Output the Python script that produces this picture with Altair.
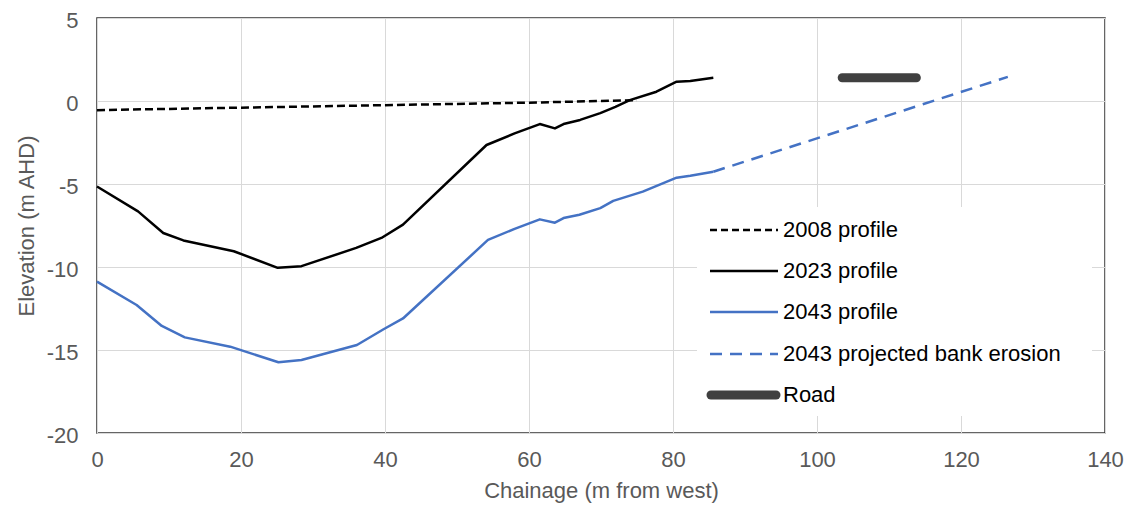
import altair as alt
import pandas as pd

# ---- data ----
x2008 = [0, 20, 40, 60, 75]
y2008 = [-0.55, -0.4, -0.25, -0.1, 0.05]

x2023 = [0, 5.7, 9.2, 12, 19, 25.1, 28.4, 36, 39.5, 42.5, 54.1, 58, 61.5, 63.6,
         64.8, 67.1, 69.9, 72, 74, 77.7, 80.5, 82.4, 85.6]
y2023 = [-5.15, -6.65, -7.95, -8.4, -9.05, -10.05, -9.95, -8.85, -8.25, -7.45,
         -2.65, -1.95, -1.39, -1.65, -1.39, -1.14, -0.73, -0.35, 0.05, 0.56,
         1.16, 1.2, 1.4]

x2043 = [0, 5.5, 9, 12.2, 18.5, 25.2, 28.4, 36.1, 39.8, 42.5, 54.3, 58, 61.5,
         63.6, 64.8, 67, 69.9, 71.7, 75.8, 80.5, 82.4, 85.6]
y2043 = [-10.88, -12.29, -13.55, -14.24, -14.8, -15.74, -15.6, -14.7, -13.75,
         -13.1, -8.37, -7.7, -7.13, -7.33, -7.05, -6.85, -6.45, -6.02, -5.46,
         -4.62, -4.5, -4.26]

x_erosion = [85.6, 126.5]
y_erosion = [-4.26, 1.45]

x_road = [103.5, 113.8]
y_road = [1.4, 1.4]

legend_labels = ["2008 profile", "2023 profile", "2043 profile",
                 "2043 projected bank erosion", "Road"]

x_ticks = [0, 20, 40, 60, 80, 100, 120, 140]
y_ticks = [-20, -15, -10, -5, 0, 5]

FONT = "Liberation Sans"
FS = 22
GREY_TEXT = "#595959"
BLUE = "#4472C4"
ROAD = "#404040"

x_enc = alt.X("x:Q", scale=alt.Scale(domain=[0, 140], nice=False),
              axis=alt.Axis(values=x_ticks, title="Chainage (m from west)",
                            labelPadding=16, titlePadding=10, labelFlush=False,
                            labelExpr="toString(datum.value)"))
y_enc = alt.Y("y:Q", scale=alt.Scale(domain=[-20, 5], nice=False),
              axis=alt.Axis(values=y_ticks, title="Elevation (m AHD)",
                            labelPadding=19, titlePadding=8, labelFlush=False,
                            labelOffset=2,
                            labelExpr="toString(datum.value)"))


def line(xs, ys, color, width, dash=None, cap="butt"):
    df = pd.DataFrame({"x": xs, "y": ys})
    kw = dict(color=color, strokeWidth=width, strokeCap=cap, strokeJoin="round")
    if dash:
        kw["strokeDash"] = dash
    return alt.Chart(df).mark_line(**kw).encode(x=x_enc, y=y_enc, order=alt.Order("x:Q"))


layers = [
    line(x2008, y2008, "#000000", 2.5, [8, 4]),
    line(x2023, y2023, "#000000", 2.5),
    line(x2043, y2043, BLUE, 2.5),
    line(x_erosion, y_erosion, BLUE, 2.5, [12, 8]),
    line(x_road, y_road, ROAD, 9, cap="round"),
]

# ---- legend (drawn inside the plot area, white box over the grid) ----
box = alt.Chart(pd.DataFrame({"k": [0]})).mark_rect(color="white").encode(
    x=alt.value(600), x2=alt.value(995), y=alt.value(189), y2=alt.value(398))
layers.append(box)

styles = [
    dict(color="#000000", strokeWidth=2.5, strokeDash=[7, 4]),
    dict(color="#000000", strokeWidth=2.5),
    dict(color=BLUE, strokeWidth=2.5),
    dict(color=BLUE, strokeWidth=2.5, strokeDash=[12, 8]),
    dict(color=ROAD, strokeWidth=9, strokeCap="round"),
]
row_y = [212, 253, 294, 336, 377]
for lab, st, ry in zip(legend_labels, styles, row_y):
    d = pd.DataFrame({"label": [lab]})
    x1, x2 = (613, 681)
    if "Road" in lab:
        x1, x2 = 614, 679
    layers.append(alt.Chart(d).mark_rule(**st).encode(
        x=alt.value(x1), x2=alt.value(x2), y=alt.value(ry)))
    layers.append(alt.Chart(d).mark_text(
        align="left", baseline="middle", font=FONT, fontSize=FS,
        color="#000000").encode(
        x=alt.value(686), y=alt.value(ry), text="label:N"))

chart = alt.layer(*layers).properties(
    width=1008, height=415,
    autosize=alt.AutoSizeParams(type="none"),
    padding={"left": 89, "top": 10, "right": 19, "bottom": 80},
).configure_view(
    stroke="#333333", strokeWidth=1.5
).configure_axis(
    grid=True, gridColor="#d9d9d9", gridWidth=1, domain=False, ticks=False,
    labelFont=FONT, labelFontSize=FS, labelColor=GREY_TEXT,
    titleFont=FONT, titleFontSize=FS, titleFontWeight="normal", titleColor=GREY_TEXT,
)

chart.save("out.html", embed_options={"renderer": "svg", "actions": False})
